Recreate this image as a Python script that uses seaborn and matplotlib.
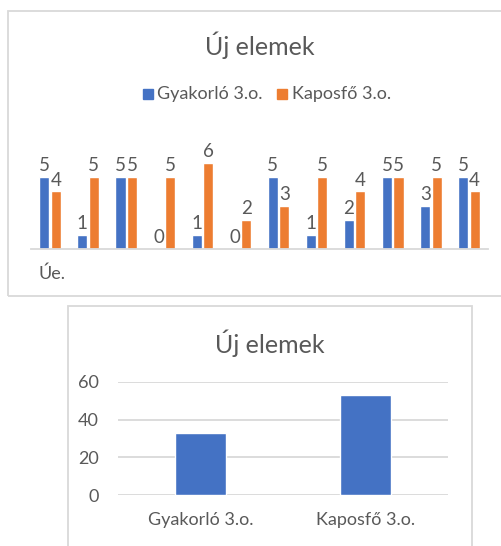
import numpy as np
import pandas as pd
import matplotlib
matplotlib.use("Agg")
import matplotlib.pyplot as plt
import seaborn as sns
from matplotlib.patches import Rectangle

# data
schools = ["Gyakorló 3.o.", "Kaposfő 3.o."]
items = list(range(1, 13))
gyakorlo = [5, 1, 5, 0, 1, 0, 5, 1, 2, 5, 3, 5]
kaposfo = [4, 5, 5, 5, 6, 2, 3, 5, 4, 5, 5, 4]
totals = [33, 53]

blue = "#4472C4"
orange = "#ED7D31"
grey = "#595959"
line = "#D9D9D9"

sns.set_style("white")
plt.rcParams['font.family'] = ['Lato', 'DejaVu Sans']

W, H = 501, 546
fig = plt.figure(figsize=(W / 100, H / 100), dpi=100)


def px_axes(x0, y0, x1, y1):
    # pixel box (top-left origin) -> figure axes
    return fig.add_axes([x0 / W, 1 - y1 / H, (x1 - x0) / W, (y1 - y0) / H])


# frames
fig.patches.append(Rectangle((8 / W, 1 - 296 / H), 500 / W, 285 / H, transform=fig.transFigure,
                             fill=False, edgecolor=line, linewidth=1.3))
fig.patches.append(Rectangle((68 / W, -0.05), 404 / W, 0.05 + 1 - 306 / H, transform=fig.transFigure,
                             fill=False, edgecolor=line, linewidth=1.3))

# top chart
df = pd.DataFrame({
    "item": items * 2,
    "school": [schools[0]] * 12 + [schools[1]] * 12,
    "value": gyakorlo + kaposfo,
})
ax = px_axes(31, 249 - 6.5 * 14.4, 488, 249)
sns.barplot(data=df, x="item", y="value", hue="school", palette=[blue, orange],
            saturation=1, width=0.6, gap=0.12, ax=ax, legend=False)
ax.set_ylim(0, 6.5)
ax.set_xlim(-0.5, 11.5)
for c in ax.containers:
    ax.bar_label(c, fmt="%d", padding=2, fontsize=13.5, color=grey)
ax.set_yticks([])
ax.set_xticks([])
ax.set_xlabel("")
ax.set_ylabel("")
for s in ["top", "left", "right"]:
    ax.spines[s].set_visible(False)
ax.spines["bottom"].set_color(line)
ax.spines["bottom"].set_linewidth(1.3)
fig.text(38 / W, 1 - 274 / H, "Úe.", va="center", fontsize=13, color=grey)
fig.text(260 / W, 1 - 45 / H, "Új elemek", ha="center", va="center", fontsize=18, color=grey)

# legend
fig.patches.append(Rectangle((143 / W, 1 - 99 / H), 10 / W, 10 / H, transform=fig.transFigure, color=blue))
fig.text(157 / W, 1 - 94 / H, schools[0], va="center", fontsize=13, color=grey)
fig.patches.append(Rectangle((277 / W, 1 - 99 / H), 10 / W, 10 / H, transform=fig.transFigure, color=orange))
fig.text(292 / W, 1 - 94 / H, schools[1], va="center", fontsize=13, color=grey)

# bottom chart
ax2 = px_axes(118, 382, 448, 495)
sns.barplot(x=schools, y=totals, color=blue, saturation=1, width=0.315, ax=ax2)
ax2.set_ylim(0, 60)
ax2.set_xlim(-0.5, 1.5)
ax2.set_yticks([0, 20, 40, 60])
ax2.yaxis.grid(True, color=line, linewidth=1.3)
ax2.set_axisbelow(True)
for s in ax2.spines.values():
    s.set_visible(False)
ax2.tick_params(axis="both", length=0, labelsize=13, labelcolor=grey)
ax2.tick_params(axis="y", pad=14)
ax2.tick_params(axis="x", pad=12)
fig.text(270 / W, 1 - 343 / H, "Új elemek", ha="center", va="center", fontsize=18, color=grey)

fig.savefig("out.png", dpi=100)
